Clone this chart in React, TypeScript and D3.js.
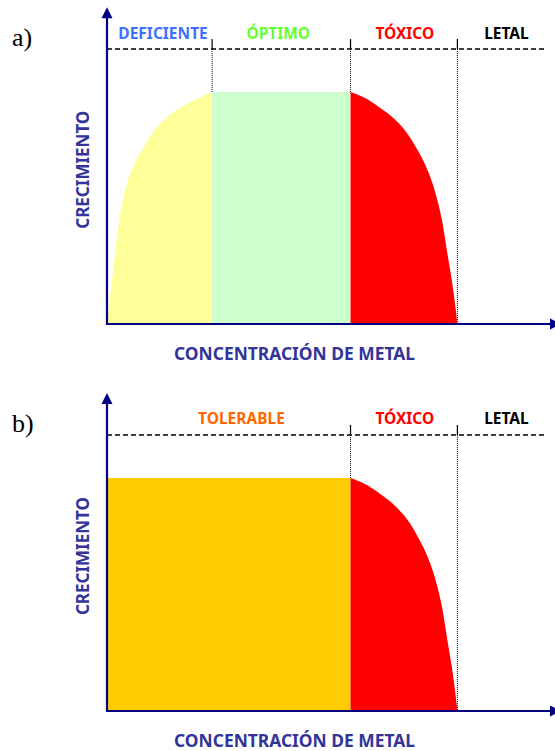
import React, { useEffect, useRef } from "react";
import * as d3 from "d3";

// concentration (arbitrary units 0-10) and relative growth (1 = plateau)
const deficientCurve: [number, number][] = [
  [0, 0], [0.14, 0.23], [0.3, 0.47], [0.45, 0.6], [0.6, 0.68], [0.83, 0.76],
  [1.06, 0.83], [1.36, 0.89], [1.75, 0.94], [2.12, 0.975], [2.4, 1],
];
const toxicCurve: [number, number][] = [
  [5.56, 1], [5.89, 0.974], [6.19, 0.938], [6.58, 0.88], [6.88, 0.815],
  [7.11, 0.743], [7.3, 0.671], [7.49, 0.57], [7.64, 0.455], [7.79, 0.283],
  [7.91, 0.139], [8.0, 0],
];

const zonesA = ["DEFICIENTE", "ÓPTIMO", "TÓXICO", "LETAL"];
const boundsA = [0, 2.4, 5.56, 8.0, 10];
const labelAtA = [1.28, 3.91, 6.8, 9.12];

const zonesB = ["TOLERABLE", "TÓXICO", "LETAL"];
const boundsB = [0, 5.56, 8.0, 10];
const labelAtB = [3.07, 6.8, 9.12];

const xTitle = "CONCENTRACIÓN DE METAL";
const yTitle = "CRECIMIENTO";

const NAVY = "#000080";
const TITLE = "#333399";

function App() {
  const ref = useRef<SVGSVGElement | null>(null);

  useEffect(() => {
    const svg = d3.select(ref.current);
    svg.selectAll("*").remove();

    const x = d3.scaleLinear().domain([0, 10]).range([107, 545]);

    const drawPanel = (opts: {
      name: string;
      bottom: number;
      plateau: number;
      zones: string[];
      bounds: number[];
      labelAt: number[];
      labelColors: string[];
      fills: { data: [number, number][]; color: string }[];
    }) => {
      const y = d3.scaleLinear().domain([0, 1]).range([opts.bottom, opts.plateau]);
      const g = svg.append("g");
      const dashY = y(1.185);
      const tipY = y(1.365);

      // filled areas under the growth profile
      const area = d3.area<[number, number]>()
        .x(d => x(d[0]))
        .y0(y(0))
        .y1(d => y(d[1]))
        .curve(d3.curveMonotoneX);
      opts.fills.forEach(f => {
        g.append("path").datum(f.data).attr("d", area).attr("fill", f.color);
      });

      // growth at a boundary
      const all = opts.fills.flatMap(f => f.data);
      const growthAt = (c: number) => {
        const pts = all.filter(p => Math.abs(p[0] - c) < 1e-6);
        return pts.length ? d3.min(pts, p => p[1])! : 0;
      };

      // dashed reference line
      g.append("line")
        .attr("x1", x(0)).attr("x2", x(10))
        .attr("y1", dashY).attr("y2", dashY)
        .attr("stroke", "#000").attr("stroke-width", 1.5)
        .attr("stroke-dasharray", "5,3");

      // boundaries: tick + dotted line
      opts.bounds.slice(1, -1).forEach(b => {
        g.append("line")
          .attr("x1", x(b)).attr("x2", x(b))
          .attr("y1", dashY - 10).attr("y2", dashY)
          .attr("stroke", "#000").attr("stroke-width", 1.2);
        g.append("line")
          .attr("x1", x(b)).attr("x2", x(b))
          .attr("y1", dashY).attr("y2", y(growthAt(b)))
          .attr("stroke", "#000").attr("stroke-width", 1)
          .attr("stroke-dasharray", "1,1");
      });

      // zone labels
      opts.zones.forEach((z, i) => {
        g.append("text")
          .attr("x", x(opts.labelAt[i]))
          .attr("y", dashY - 10.5)
          .attr("text-anchor", "middle")
          .attr("font-family", "'Noto Sans', sans-serif")
          .attr("font-weight", "bold")
          .attr("font-size", 15.5)
          .attr("fill", opts.labelColors[i])
          .text(z);
      });

      // axes
      g.append("line")
        .attr("x1", x(0)).attr("x2", x(0))
        .attr("y1", y(0) + 1).attr("y2", tipY + 8)
        .attr("stroke", NAVY).attr("stroke-width", 2.2);
      g.append("path")
        .attr("d", `M${x(0)},${tipY} L${x(0) - 5.5},${tipY + 11} L${x(0) + 5.5},${tipY + 11} Z`)
        .attr("fill", NAVY);
      g.append("line")
        .attr("x1", x(0) - 1).attr("x2", 553)
        .attr("y1", y(0)).attr("y2", y(0))
        .attr("stroke", NAVY).attr("stroke-width", 2.2);
      g.append("path")
        .attr("d", `M561,${y(0)} L550,${y(0) - 5.5} L550,${y(0) + 5.5} Z`)
        .attr("fill", NAVY);

      // axis titles
      g.append("text")
        .attr("x", 294.5)
        .attr("y", y(0) + 36)
        .attr("text-anchor", "middle")
        .attr("font-family", "'Noto Sans', sans-serif")
        .attr("font-weight", "bold")
        .attr("font-size", 17.4)
        .attr("fill", TITLE)
        .text(xTitle);
      const cy = y(0.665);
      g.append("text")
        .attr("transform", `translate(88.5,${cy}) rotate(-90)`)
        .attr("text-anchor", "middle")
        .attr("font-family", "'Noto Sans', sans-serif")
        .attr("font-weight", "bold")
        .attr("font-size", 17)
        .attr("fill", TITLE)
        .text(yTitle);

      // panel letter
      g.append("text")
        .attr("x", 12)
        .attr("y", tipY + 39)
        .attr("font-family", "'Liberation Serif', serif")
        .attr("font-size", 26)
        .attr("fill", "#000")
        .text(opts.name);
    };

    drawPanel({
      name: "a)",
      bottom: 324,
      plateau: 92,
      zones: zonesA,
      bounds: boundsA,
      labelAt: labelAtA,
      labelColors: ["#3f6fff", "#66ff33", "#ff0000", "#000000"],
      fills: [
        { data: deficientCurve, color: "#ffff99" },
        { data: [[boundsA[1], 1], [boundsA[2], 1]], color: "#ccffcc" },
        { data: toxicCurve, color: "#ff0000" },
      ],
    });

    drawPanel({
      name: "b)",
      bottom: 711,
      plateau: 478,
      zones: zonesB,
      bounds: boundsB,
      labelAt: labelAtB,
      labelColors: ["#ff6600", "#ff0000", "#000000"],
      fills: [
        { data: [[boundsB[0], 1], [boundsB[1], 1]], color: "#ffcc00" },
        { data: toxicCurve, color: "#ff0000" },
      ],
    });
  }, []);

  return (
    <svg
      ref={ref}
      width={555}
      height={751}
      style={{ position: "absolute", left: 0, top: 0, background: "#fff" }}
    />
  );
}

export default App;
